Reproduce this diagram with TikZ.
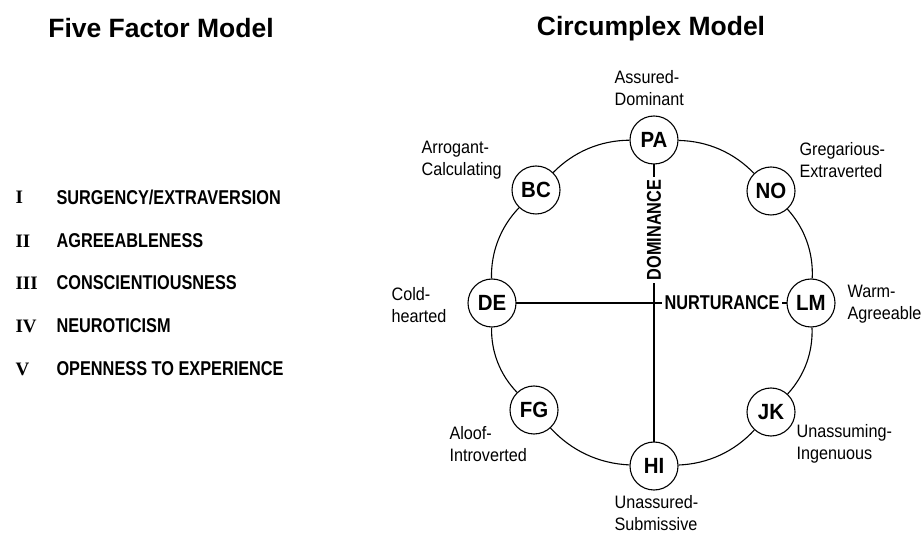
\documentclass[tikz,border=0pt]{standalone}
\usepackage{fontspec}
\setmainfont{Liberation Sans}
\newfontfamily\condfont[FakeStretch=0.815]{Liberation Sans}
\newfontfamily\octfont[FakeStretch=0.93]{Liberation Sans}
\newfontfamily\descfont[FakeStretch=0.9]{Liberation Sans}
\newfontfamily\numfont{Liberation Serif}

\begin{document}
\begin{tikzpicture}[x=1pt, y=1pt, line width=1.1pt,
    title/.style={font=\bfseries\fontsize{26.5}{30}\selectfont, inner sep=0pt},
    numeral/.style={font=\numfont\bfseries\fontsize{19}{22}\selectfont, anchor=west, inner sep=0pt},
    factor/.style={font=\condfont\bfseries\fontsize{20}{24}\selectfont, anchor=west, inner sep=0pt},
    octant/.style={circle, draw, fill=white, minimum size=48pt, inner sep=0pt,
        font=\octfont\bfseries\fontsize{22}{24}\selectfont},
    desc/.style={font=\descfont\fontsize{18}{21.5}\selectfont, align=left, anchor=west, inner sep=0pt},
    axis/.style={fill=white, inner sep=2.5pt, font=\condfont\bfseries\fontsize{20}{24}\selectfont}]
    \useasboundingbox (0, 0) rectangle (924, 533);

    % titles
    \node[title] (fivetitle) at (161, 505) {Five Factor Model};
    \node[title] (circtitle) at (651, 504) {Circumplex Model};

    % five factors
    \node[numeral] (n1) at (15, 336) {I};
    \node[numeral] (n2) at (15, 292) {II};
    \node[numeral] (n3) at (15, 250) {III};
    \node[numeral] (n4) at (15, 207) {IV};
    \node[numeral] (n5) at (15, 164) {V};
    \node[factor] (f1) at (56, 336) {SURGENCY/EXTRAVERSION};
    \node[factor] (f2) at (56, 292) {AGREEABLENESS};
    \node[factor] (f3) at (56, 250) {CONSCIENTIOUSNESS};
    \node[factor] (f4) at (56, 207) {NEUROTICISM};
    \node[factor] (f5) at (56, 164) {OPENNESS TO EXPERIENCE};

    % axes
    \coordinate (PAc) at (654, 393);
    \coordinate (HIc) at (654, 67);
    \coordinate (DEc) at (492, 230);
    \coordinate (LMc) at (811, 230);
    \draw[-] (PAc) -- (HIc);
    \draw[-] (DEc) -- (LMc);
    \node[axis, rotate=90] (dom) at (654, 303) {DOMINANCE};
    \node[axis] (nurt) at (722, 230) {NURTURANCE};

    % octants
    \draw
    (PAc) node[octant](PA){PA}
    (771, 342) node[octant](NO){NO}
    (LMc) node[octant](LM){LM}
    (771, 121) node[octant](JK){JK}
    (HIc) node[octant](HI){HI}
    (534, 123) node[octant](FG){FG}
    (DEc) node[octant](DE){DE}
    (536, 343) node[octant](BC){BC};

    \draw[-] (PA) to[bend left=22.5, looseness=0.9] (NO);
    \draw[-] (NO) to[bend left=22.5, looseness=0.9] (LM);
    \draw[-] (LM) to[bend left=22.5, looseness=0.9] (JK);
    \draw[-] (JK) to[bend left=22.5, looseness=0.9] (HI);
    \draw[-] (HI) to[bend left=22.5, looseness=0.9] (FG);
    \draw[-] (FG) to[bend left=22.5, looseness=0.9] (DE);
    \draw[-] (DE) to[bend left=22.5, looseness=0.9] (BC);
    \draw[-] (BC) to[bend left=22.5, looseness=0.9] (PA);

    % octant descriptions
    \node[desc] (dPA) at (614, 445) {Assured-\\Dominant};
    \node[desc] (dNO) at (799, 373) {Gregarious-\\Extraverted};
    \node[desc] (dLM) at (847, 229) {Warm-\\Agreeable};
    \node[desc] (dJK) at (796, 89) {Unassuming-\\Ingenuous};
    \node[desc] (dHI) at (614, 20) {Unassured-\\Submissive};
    \node[desc] (dFG) at (449, 89) {Aloof-\\Introverted};
    \node[desc] (dDE) at (391, 228) {Cold-\\hearted};
    \node[desc] (dBC) at (421, 373) {Arrogant-\\Calculating};

  \end{tikzpicture}
\end{document}
